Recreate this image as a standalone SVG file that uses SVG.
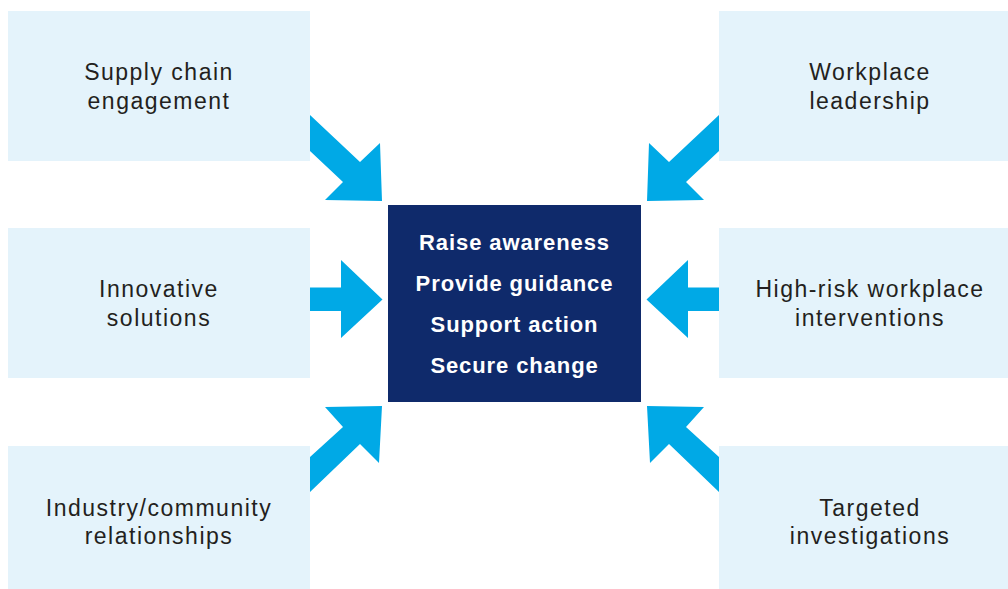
<svg xmlns="http://www.w3.org/2000/svg" width="1008" height="589" viewBox="0 0 1008 589">
  <style>
    .box { fill: #e4f3fb; }
    .core { fill: #0f2a6b; }
    .arrow { fill: #00a9e6; }
    .label { font-family: "Liberation Sans", Arial, sans-serif; font-size: 23px; letter-spacing: 1.5px; fill: #231f20; text-anchor: middle; }
    .core-label { font-family: "Liberation Sans", Arial, sans-serif; font-size: 22px; font-weight: bold; letter-spacing: 0.9px; fill: #ffffff; text-anchor: middle; }
  </style>
  <rect width="1008" height="589" fill="#ffffff"/>

  <!-- arrows pointing into the central box -->
  <g id="connectors">
    <polygon class="arrow" points="310,115 360,162 380,143 382,201 325,200 343,182 310,151"/>
    <polygon class="arrow" points="310,287.5 341,287.5 341,260 382.5,299.5 341,338 341,311 310,311"/>
    <polygon class="arrow" points="310,457 343,427 325,407 382,406 379,463 360,444 310,492"/>
    <polygon class="arrow" points="719,115 669,162 649,143 647,201 704,200 686,182 719,151"/>
    <polygon class="arrow" points="719,287.5 688,287.5 688,260 646.5,299.5 688,338 688,311 719,311"/>
    <polygon class="arrow" points="719,457 686,427 704,407 647,406 650,463 669,444 719,492"/>
  </g>

  <g id="supply-chain">
    <rect class="box" x="8" y="11" width="302" height="150"/>
    <text class="label" x="159" y="80">Supply chain</text>
    <text class="label" x="159" y="108.5">engagement</text>
  </g>

  <g id="innovative-solutions">
    <rect class="box" x="8" y="228" width="302" height="150"/>
    <text class="label" x="159" y="297">Innovative</text>
    <text class="label" x="159" y="325.5">solutions</text>
  </g>

  <g id="industry-community">
    <rect class="box" x="8" y="446" width="302" height="150"/>
    <text class="label" x="159" y="515.5">Industry/community</text>
    <text class="label" x="159" y="544">relationships</text>
  </g>

  <g id="workplace-leadership">
    <rect class="box" x="719" y="11" width="302" height="150"/>
    <text class="label" x="870" y="80">Workplace</text>
    <text class="label" x="870" y="108.5">leadership</text>
  </g>

  <g id="high-risk">
    <rect class="box" x="719" y="228" width="302" height="150"/>
    <text class="label" x="870" y="297">High-risk workplace</text>
    <text class="label" x="870" y="325.5">interventions</text>
  </g>

  <g id="targeted-investigations">
    <rect class="box" x="719" y="446" width="302" height="150"/>
    <text class="label" x="870" y="515.5">Targeted</text>
    <text class="label" x="870" y="544">investigations</text>
  </g>

  <g id="core">
    <rect class="core" x="388" y="205" width="253" height="197"/>
    <text class="core-label" x="514.5" y="250">Raise awareness</text>
    <text class="core-label" x="514.5" y="291">Provide guidance</text>
    <text class="core-label" x="514.5" y="332">Support action</text>
    <text class="core-label" x="514.5" y="373">Secure change</text>
  </g>
</svg>
